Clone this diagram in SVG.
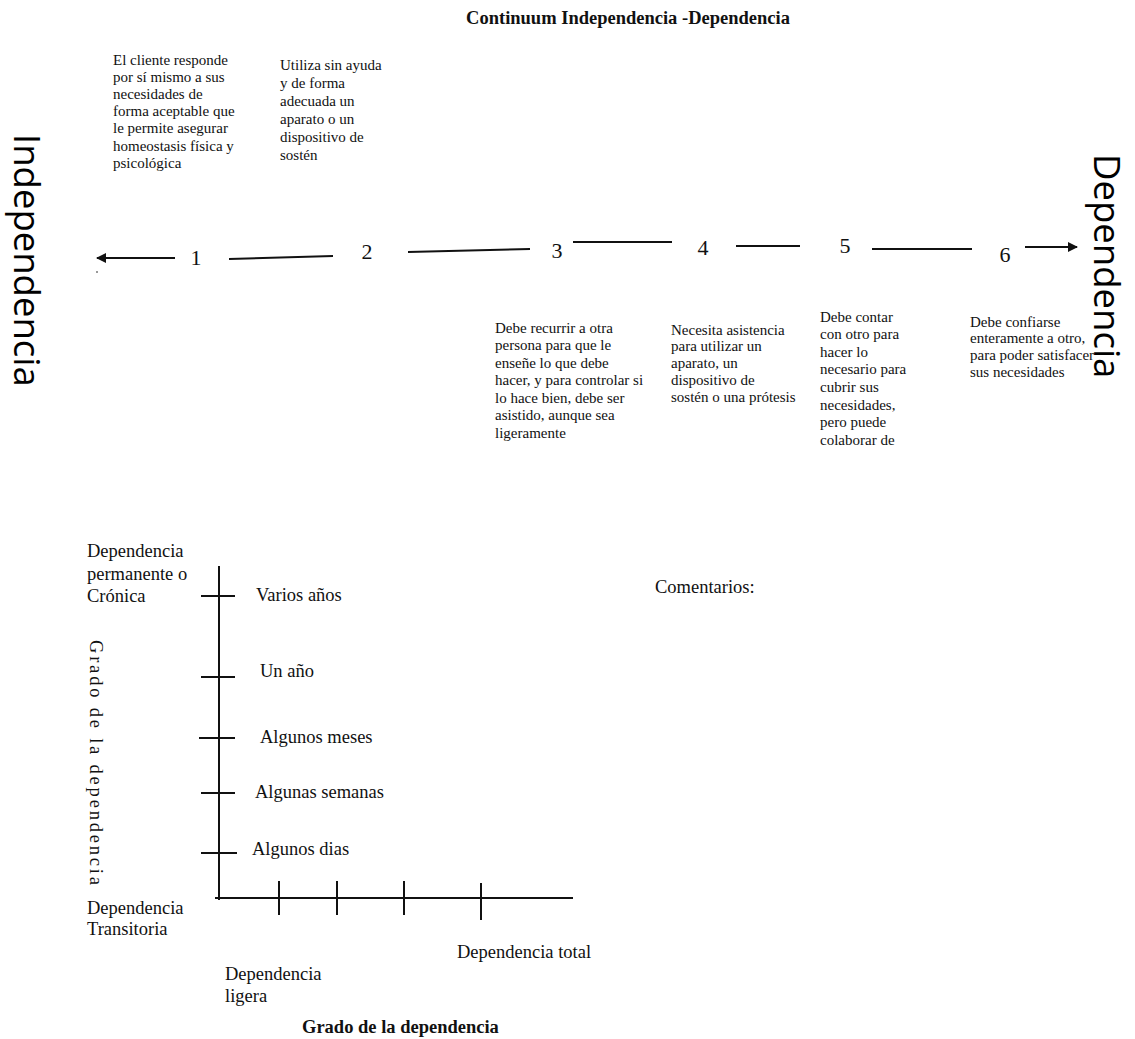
<svg xmlns="http://www.w3.org/2000/svg" width="1135" height="1039" viewBox="0 0 1135 1039">
<style>
text{font-family:"Liberation Serif","Times New Roman",serif;fill:#111;}
.t{font-size:18.5px;font-weight:bold;}
.s{font-size:15px;}
.m{font-size:18.5px;}
.n{font-size:22px;}
.big{font-family:"Open Sans","Liberation Sans",sans-serif;font-size:36.5px;fill:#000;}
.ln{stroke:#111;stroke-width:2;fill:none;}
.ax{stroke:#111;stroke-width:2;fill:none;}
</style>
<defs>
<marker id="ah" viewBox="0 0 10 10" refX="9" refY="5" markerWidth="5" markerHeight="5" orient="auto-start-reverse">
<path d="M0,0 L10,5 L0,10 z" fill="#111"/>
</marker>
</defs>
<rect width="1135" height="1039" fill="#fff"/>

<g id="title"><text class="t" x="628" y="24" text-anchor="middle">Continuum Independencia -Dependencia</text></g>

<g id="independencia"><text class="big" transform="translate(14,134) rotate(90)">Independencia</text></g>
<g id="dependencia"><text class="big" transform="translate(1094,154) rotate(90)">Dependencia</text></g>

<g id="desc1"><text class="s" x="113" y="64.5">El cliente responde<tspan x="113" dy="17.2">por sí mismo a sus</tspan><tspan x="113" dy="17.2">necesidades de</tspan><tspan x="113" dy="17.2">forma aceptable que</tspan><tspan x="113" dy="17.2">le permite asegurar</tspan><tspan x="113" dy="17.2">homeostasis física y</tspan><tspan x="113" dy="17.2">psicológica</tspan></text></g>
<g id="desc2"><text class="s" x="280" y="69.5">Utiliza sin ayuda<tspan x="280" dy="18">y de forma</tspan><tspan x="280" dy="18">adecuada un</tspan><tspan x="280" dy="18">aparato o un</tspan><tspan x="280" dy="18">dispositivo de</tspan><tspan x="280" dy="18">sostén</tspan></text></g>
<g id="desc3"><text class="s" x="495" y="332.5">Debe recurrir a otra<tspan x="495" dy="17.5">persona para que le</tspan><tspan x="495" dy="17.5">enseñe lo que debe</tspan><tspan x="495" dy="17.5">hacer, y para controlar si</tspan><tspan x="495" dy="17.5">lo hace bien, debe ser</tspan><tspan x="495" dy="17.5">asistido, aunque sea</tspan><tspan x="495" dy="17.5">ligeramente</tspan></text></g>
<g id="desc4"><text class="s" x="671" y="334.5">Necesita asistencia<tspan x="671" dy="16.8">para utilizar un</tspan><tspan x="671" dy="16.8">aparato, un</tspan><tspan x="671" dy="16.8">dispositivo de</tspan><tspan x="671" dy="16.8">sostén o una prótesis</tspan></text></g>
<g id="desc5"><text class="s" x="820" y="321.5">Debe contar<tspan x="820" dy="17.6">con otro para</tspan><tspan x="820" dy="17.6">hacer lo</tspan><tspan x="820" dy="17.6">necesario para</tspan><tspan x="820" dy="17.6">cubrir sus</tspan><tspan x="820" dy="17.6">necesidades,</tspan><tspan x="820" dy="17.6">pero puede</tspan><tspan x="820" dy="17.6">colaborar de</tspan></text></g>
<g id="desc6"><text class="s" x="970" y="326.5">Debe confiarse<tspan x="970" dy="16.7">enteramente a otro,</tspan><tspan x="970" dy="16.7">para poder satisfacer</tspan><tspan x="970" dy="16.7">sus necesidades</tspan></text></g>

<g id="n1"><text class="n" x="196" y="265" text-anchor="middle">1</text></g>
<g id="n2"><text class="n" x="367" y="259" text-anchor="middle">2</text></g>
<g id="n3"><text class="n" x="557" y="258" text-anchor="middle">3</text></g>
<g id="n4"><text class="n" x="703" y="255" text-anchor="middle">4</text></g>
<g id="n5"><text class="n" x="845" y="253" text-anchor="middle">5</text></g>
<g id="n6"><text class="n" x="1005" y="262" text-anchor="middle">6</text></g>

<g id="connectors">
<line class="ln" x1="175" y1="258" x2="97" y2="258" marker-end="url(#ah)"/>
<line class="ln" x1="229" y1="259" x2="333" y2="256"/>
<line class="ln" x1="408" y1="252" x2="530" y2="249"/>
<line class="ln" x1="573" y1="242" x2="672" y2="242"/>
<line class="ln" x1="736" y1="246" x2="800" y2="246"/>
<line class="ln" x1="872" y1="249" x2="972" y2="249"/>
<line class="ln" x1="1025" y1="247" x2="1077" y2="247" marker-end="url(#ah)"/>
<circle cx="97" cy="272" r="1" fill="#777"/>
</g>

<g id="chart">
<line class="ax" x1="219" y1="566" x2="219" y2="900"/>
<line class="ax" x1="215" y1="898" x2="573" y2="898"/>
<line class="ax" x1="201" y1="596" x2="235" y2="596"/>
<line class="ax" x1="201" y1="677" x2="235" y2="677"/>
<line class="ax" x1="199" y1="738" x2="235" y2="738"/>
<line class="ax" x1="201" y1="793" x2="235" y2="793"/>
<line class="ax" x1="201" y1="853" x2="237" y2="853"/>
<line class="ax" x1="279" y1="881" x2="279" y2="915"/>
<line class="ax" x1="337" y1="881" x2="337" y2="915"/>
<line class="ax" x1="404" y1="881" x2="404" y2="915"/>
<line class="ax" x1="481" y1="883" x2="481" y2="920"/>
</g>

<g id="ylabel-top"><text class="m" x="87" y="557">Dependencia<tspan x="87" dy="22.5">permanente o</tspan><tspan x="87" dy="22.5">Crónica</tspan></text></g>
<g id="ylabel-bottom"><text class="m" x="87" y="914">Dependencia<tspan x="87" dy="21">Transitoria</tspan></text></g>
<g id="yaxis-title"><text class="m" letter-spacing="2.8" transform="translate(90,640) rotate(90)">Grado de la dependencia</text></g>

<g id="tick-varios"><text class="m" x="256" y="601">Varios años</text></g>
<g id="tick-unano"><text class="m" x="260" y="677">Un año</text></g>
<g id="tick-meses"><text class="m" x="260" y="743">Algunos meses</text></g>
<g id="tick-semanas"><text class="m" x="255" y="798">Algunas semanas</text></g>
<g id="tick-dias"><text class="m" x="252" y="855">Algunos dias</text></g>

<g id="xlabel-ligera"><text class="m" x="225" y="980">Dependencia<tspan x="225" dy="22">ligera</tspan></text></g>
<g id="xlabel-total"><text class="m" x="457" y="958">Dependencia total</text></g>
<g id="xaxis-title"><text class="t" x="302" y="1033">Grado de la dependencia</text></g>

<g id="comentarios"><text class="m" x="655" y="593">Comentarios:</text></g>
</svg>
